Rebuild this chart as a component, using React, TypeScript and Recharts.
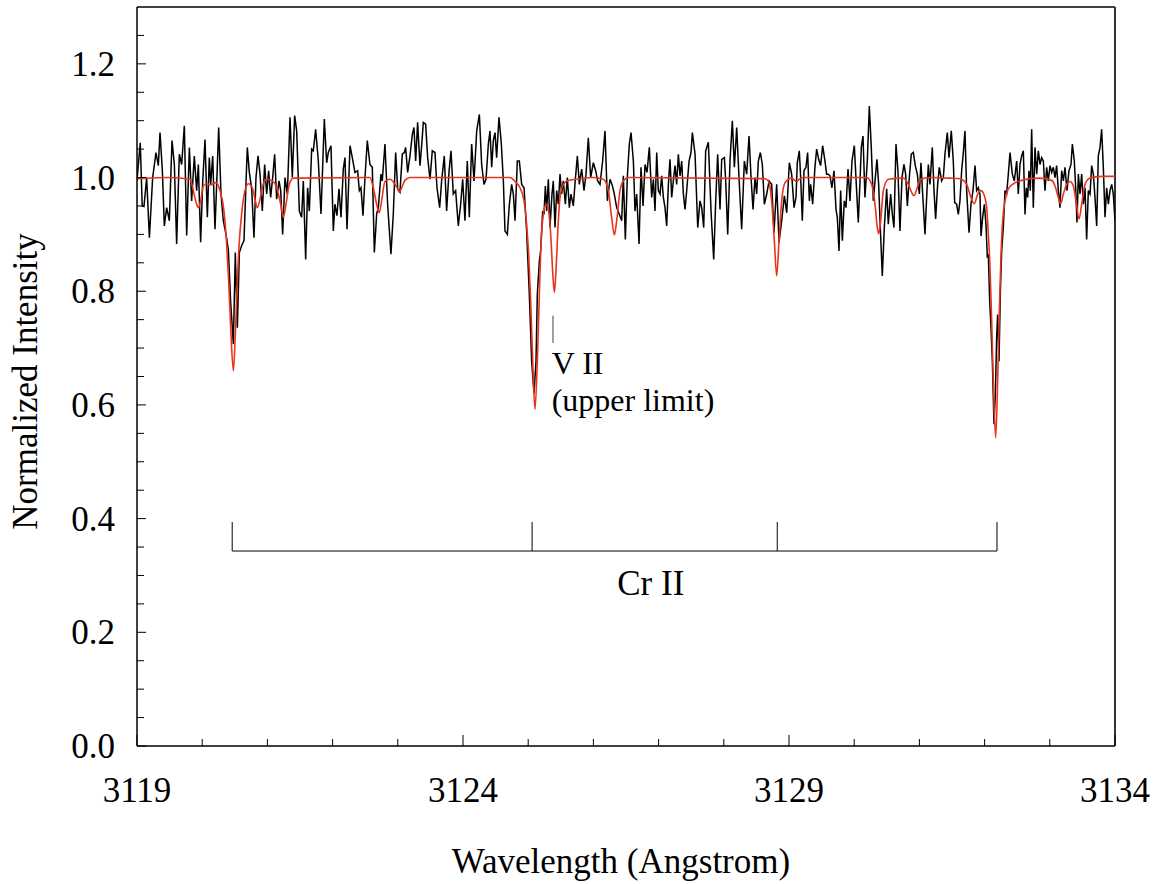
import React from 'react';
import { LineChart, Line, XAxis, YAxis, ReferenceLine, ReferenceDot } from 'recharts';

const FONT = "'Times New Roman', 'Liberation Serif', Tinos, 'DejaVu Serif', 'Noto Serif', FreeSerif, Times, serif";

const xMajorTicks = [3119, 3124, 3129, 3134];
const xMinorTicks = [3120, 3121, 3122, 3123, 3125, 3126, 3127, 3128, 3130, 3131, 3132, 3133];
const yMajorTicks = [0, 0.2, 0.4, 0.6, 0.8, 1.0, 1.2];
const yMinorTicks = [0.05, 0.1, 0.15, 0.25, 0.3, 0.35, 0.45, 0.5, 0.55, 0.65, 0.7, 0.75, 0.85, 0.9, 0.95, 1.05, 1.1, 1.15, 1.25];

// observed spectrum [wavelength, normalized intensity]
const observedSpectrum: number[][] = [
  [3119.0, 0.996], [3119.05, 1.061], [3119.08, 0.95], [3119.107, 0.949], [3119.148, 1.0], [3119.19, 0.894],
  [3119.24, 1.0], [3119.291, 1.044], [3119.327, 1.021], [3119.353, 1.079], [3119.389, 1.012], [3119.419, 0.915],
  [3119.455, 0.947], [3119.496, 0.924], [3119.537, 1.065], [3119.573, 1.023], [3119.608, 0.883], [3119.649, 1.041],
  [3119.685, 1.023], [3119.726, 1.091], [3119.762, 0.898], [3119.803, 1.053], [3119.838, 0.959], [3119.879, 1.038],
  [3119.915, 0.977], [3119.941, 1.023], [3119.976, 0.886], [3120.007, 0.991], [3120.043, 1.067], [3120.079, 0.93],
  [3120.109, 1.035], [3120.13, 0.988], [3120.161, 1.038], [3120.196, 0.909], [3120.222, 0.988], [3120.253, 1.088],
  [3120.288, 0.971], [3120.324, 0.924], [3120.365, 0.9], [3120.401, 0.873], [3120.437, 0.78], [3120.478, 0.707],
  [3120.508, 0.868], [3120.539, 0.736], [3120.57, 0.868], [3120.605, 0.88], [3120.641, 0.889], [3120.672, 0.991],
  [3120.692, 1.053], [3120.723, 1.009], [3120.759, 0.98], [3120.794, 0.894], [3120.825, 1.0], [3120.856, 1.038],
  [3120.887, 1.006], [3120.922, 0.941], [3120.958, 1.023], [3120.989, 0.971], [3121.019, 1.012], [3121.05, 0.965],
  [3121.081, 1.0], [3121.111, 1.041], [3121.142, 0.962], [3121.178, 0.994], [3121.204, 0.977], [3121.234, 0.9],
  [3121.27, 1.0], [3121.306, 0.971], [3121.347, 1.106], [3121.382, 1.0], [3121.418, 1.109], [3121.449, 1.082],
  [3121.49, 0.941], [3121.525, 0.93], [3121.551, 0.994], [3121.587, 0.856], [3121.617, 0.982], [3121.643, 0.941],
  [3121.679, 1.05], [3121.704, 1.047], [3121.74, 1.085], [3121.781, 1.029], [3121.822, 0.936], [3121.873, 1.103],
  [3121.909, 1.026], [3121.934, 1.044], [3121.975, 1.056], [3122.011, 0.906], [3122.036, 0.953], [3122.067, 0.933],
  [3122.098, 0.98], [3122.129, 0.93], [3122.164, 1.015], [3122.19, 1.035], [3122.221, 0.909], [3122.267, 1.056],
  [3122.302, 1.035], [3122.343, 1.009], [3122.384, 1.012], [3122.41, 0.977], [3122.435, 0.982], [3122.466, 0.933],
  [3122.497, 1.0], [3122.532, 1.065], [3122.573, 1.023], [3122.609, 1.018], [3122.64, 0.868], [3122.676, 0.936],
  [3122.701, 0.947], [3122.742, 1.006], [3122.762, 0.994], [3122.803, 1.059], [3122.844, 0.953], [3122.895, 0.865],
  [3122.931, 0.936], [3122.967, 1.044], [3122.998, 0.98], [3123.033, 0.974], [3123.069, 1.041], [3123.1, 1.044],
  [3123.12, 1.053], [3123.151, 1.009], [3123.187, 1.038], [3123.223, 1.076], [3123.248, 1.088], [3123.274, 1.029],
  [3123.304, 1.097], [3123.34, 1.021], [3123.366, 1.056], [3123.391, 1.097], [3123.427, 1.094], [3123.458, 1.035],
  [3123.494, 0.997], [3123.529, 1.047], [3123.57, 1.044], [3123.601, 0.982], [3123.642, 0.947], [3123.672, 0.994],
  [3123.713, 1.038], [3123.749, 0.941], [3123.785, 1.009], [3123.816, 1.047], [3123.851, 0.971], [3123.887, 0.977],
  [3123.928, 0.915], [3123.964, 0.953], [3123.995, 0.997], [3124.03, 0.924], [3124.066, 1.029], [3124.097, 0.93],
  [3124.133, 1.059], [3124.169, 0.994], [3124.21, 1.082], [3124.251, 1.111], [3124.286, 1.023], [3124.322, 0.988],
  [3124.353, 0.997], [3124.389, 1.059], [3124.414, 1.082], [3124.44, 1.018], [3124.465, 1.065], [3124.491, 1.079],
  [3124.516, 1.035], [3124.552, 1.106], [3124.588, 1.059], [3124.619, 0.994], [3124.644, 0.906], [3124.68, 0.9],
  [3124.711, 0.953], [3124.746, 0.988], [3124.772, 0.971], [3124.798, 0.924], [3124.833, 1.029], [3124.864, 1.029],
  [3124.9, 0.988], [3124.936, 0.982], [3124.976, 0.906], [3125.017, 0.795], [3125.053, 0.677], [3125.089, 0.62],
  [3125.12, 0.677], [3125.14, 0.795], [3125.171, 0.853], [3125.191, 0.871], [3125.222, 0.941], [3125.242, 0.935],
  [3125.263, 0.985], [3125.283, 0.941], [3125.309, 0.997], [3125.334, 0.912], [3125.365, 0.971], [3125.385, 0.994],
  [3125.411, 0.912], [3125.437, 0.977], [3125.462, 0.953], [3125.488, 1.006], [3125.513, 0.971], [3125.539, 0.994],
  [3125.57, 0.953], [3125.6, 1.0], [3125.631, 0.947], [3125.656, 0.971], [3125.692, 0.95], [3125.723, 0.997],
  [3125.754, 1.038], [3125.784, 0.988], [3125.82, 1.015], [3125.856, 0.977], [3125.887, 1.006], [3125.922, 1.07],
  [3125.958, 1.0], [3125.999, 1.026], [3126.035, 1.012], [3126.065, 0.994], [3126.101, 0.988], [3126.142, 1.029],
  [3126.178, 1.082], [3126.214, 0.959], [3126.255, 0.997], [3126.285, 0.988], [3126.316, 0.974], [3126.357, 0.947],
  [3126.398, 0.935], [3126.434, 0.924], [3126.459, 1.003], [3126.49, 0.891], [3126.52, 1.0], [3126.551, 1.059],
  [3126.577, 1.079], [3126.613, 1.029], [3126.638, 0.941], [3126.664, 0.971], [3126.7, 0.883], [3126.73, 1.018],
  [3126.761, 0.95], [3126.792, 1.023], [3126.822, 1.009], [3126.858, 1.053], [3126.894, 0.965], [3126.92, 0.997],
  [3126.945, 0.941], [3126.971, 1.044], [3126.996, 0.977], [3127.022, 0.971], [3127.047, 1.003], [3127.073, 0.965],
  [3127.098, 0.947], [3127.124, 0.915], [3127.15, 0.988], [3127.175, 1.032], [3127.201, 0.965], [3127.226, 0.994],
  [3127.252, 1.021], [3127.277, 0.988], [3127.303, 1.041], [3127.329, 1.003], [3127.354, 1.029], [3127.38, 0.971],
  [3127.405, 0.944], [3127.431, 0.977], [3127.467, 1.029], [3127.497, 1.044], [3127.518, 1.079], [3127.559, 1.041],
  [3127.6, 0.912], [3127.635, 0.959], [3127.661, 0.947], [3127.692, 0.912], [3127.722, 1.047], [3127.763, 1.062],
  [3127.804, 0.941], [3127.845, 0.856], [3127.876, 0.959], [3127.906, 1.041], [3127.942, 0.944], [3127.968, 1.032],
  [3128.009, 1.035], [3128.029, 0.994], [3128.06, 0.9], [3128.095, 1.029], [3128.131, 1.1], [3128.162, 1.018],
  [3128.198, 1.088], [3128.233, 1.0], [3128.274, 0.909], [3128.315, 1.029], [3128.351, 1.006], [3128.387, 1.073],
  [3128.418, 1.0], [3128.448, 0.944], [3128.479, 1.0], [3128.504, 0.971], [3128.53, 1.029], [3128.561, 1.044],
  [3128.591, 1.023], [3128.622, 0.953], [3128.658, 0.971], [3128.694, 0.994], [3128.734, 0.988], [3128.77, 0.903],
  [3128.811, 0.988], [3128.847, 0.886], [3128.888, 0.924], [3128.929, 0.968], [3128.965, 0.938], [3129.005, 1.026],
  [3129.041, 1.006], [3129.077, 0.947], [3129.107, 0.965], [3129.127, 1.026], [3129.158, 1.047], [3129.179, 1.0],
  [3129.204, 0.924], [3129.23, 1.012], [3129.26, 1.018], [3129.286, 1.044], [3129.312, 0.959], [3129.332, 0.988],
  [3129.363, 0.953], [3129.398, 1.018], [3129.424, 1.05], [3129.455, 1.032], [3129.485, 1.021], [3129.516, 1.056],
  [3129.552, 1.029], [3129.577, 1.006], [3129.603, 1.006], [3129.628, 1.003], [3129.659, 0.982], [3129.69, 1.012],
  [3129.721, 0.944], [3129.741, 0.93], [3129.767, 0.871], [3129.792, 0.977], [3129.818, 0.889], [3129.848, 0.959],
  [3129.874, 0.947], [3129.905, 1.015], [3129.935, 0.959], [3129.966, 1.029], [3130.002, 1.056], [3130.037, 0.977],
  [3130.063, 0.921], [3130.089, 0.994], [3130.109, 1.053], [3130.135, 1.073], [3130.165, 0.965], [3130.201, 1.029],
  [3130.232, 1.126], [3130.262, 1.053], [3130.293, 0.959], [3130.324, 1.0], [3130.349, 1.032], [3130.375, 0.988],
  [3130.4, 0.912], [3130.431, 0.827], [3130.462, 0.912], [3130.498, 0.98], [3130.523, 0.918], [3130.559, 0.971],
  [3130.585, 0.935], [3130.61, 0.912], [3130.641, 1.059], [3130.671, 1.012], [3130.702, 0.906], [3130.733, 1.0],
  [3130.763, 1.023], [3130.789, 1.006], [3130.815, 0.95], [3130.845, 1.0], [3130.876, 1.041], [3130.907, 1.044],
  [3130.937, 1.021], [3130.968, 1.006], [3130.999, 0.971], [3131.024, 1.026], [3131.05, 0.971], [3131.086, 0.9],
  [3131.116, 0.977], [3131.137, 1.023], [3131.162, 0.988], [3131.198, 1.053], [3131.224, 0.977], [3131.249, 0.927],
  [3131.28, 0.988], [3131.305, 1.018], [3131.341, 0.994], [3131.367, 1.0], [3131.392, 1.041], [3131.428, 1.079],
  [3131.454, 1.035], [3131.489, 1.082], [3131.52, 1.029], [3131.541, 0.956], [3131.571, 0.953], [3131.597, 0.935],
  [3131.622, 0.959], [3131.648, 1.012], [3131.674, 1.044], [3131.699, 1.082], [3131.725, 0.977], [3131.761, 0.903],
  [3131.791, 0.953], [3131.822, 0.977], [3131.853, 1.021], [3131.878, 0.977], [3131.904, 0.982], [3131.929, 0.971],
  [3131.945, 0.897], [3131.97, 0.93], [3131.996, 0.953], [3132.021, 0.918], [3132.042, 0.859], [3132.057, 0.865],
  [3132.078, 0.783], [3132.098, 0.736], [3132.119, 0.677], [3132.144, 0.566], [3132.165, 0.619], [3132.185, 0.718],
  [3132.2, 0.759], [3132.221, 0.677], [3132.241, 0.795], [3132.262, 0.871], [3132.287, 0.912], [3132.313, 0.977],
  [3132.338, 0.971], [3132.364, 1.006], [3132.39, 1.044], [3132.425, 1.006], [3132.456, 0.994], [3132.492, 1.029],
  [3132.517, 0.971], [3132.543, 1.023], [3132.568, 1.038], [3132.594, 1.047], [3132.62, 0.935], [3132.64, 0.982],
  [3132.661, 0.965], [3132.681, 1.012], [3132.701, 0.977], [3132.722, 1.085], [3132.747, 0.947], [3132.773, 1.053],
  [3132.799, 1.006], [3132.824, 1.047], [3132.85, 1.023], [3132.875, 1.035], [3132.901, 1.029], [3132.926, 0.977],
  [3132.952, 1.018], [3132.977, 0.994], [3133.003, 1.021], [3133.029, 1.009], [3133.054, 1.018], [3133.08, 1.0],
  [3133.105, 1.021], [3133.131, 0.977], [3133.156, 0.947], [3133.182, 1.012], [3133.208, 0.994], [3133.233, 1.018],
  [3133.264, 0.977], [3133.294, 1.012], [3133.325, 1.023], [3133.346, 1.059], [3133.376, 1.029], [3133.397, 0.982],
  [3133.417, 0.921], [3133.438, 1.006], [3133.463, 0.971], [3133.489, 1.006], [3133.514, 0.953], [3133.54, 0.982],
  [3133.565, 0.891], [3133.591, 0.977], [3133.617, 0.971], [3133.642, 1.021], [3133.668, 1.006], [3133.693, 0.965],
  [3133.719, 0.915], [3133.744, 1.038], [3133.77, 1.053], [3133.795, 1.085], [3133.821, 1.018], [3133.847, 0.93],
  [3133.872, 0.982], [3133.898, 0.953], [3133.923, 0.977], [3133.949, 0.988], [3133.974, 0.971], [3134.0, 0.924],
];

// synthetic model spectrum [wavelength, normalized intensity]
const modelSpectrum: number[][] = [
  [3119.0, 0.998], [3119.5, 1.0], [3119.813, 0.997], [3119.864, 0.977], [3119.915, 0.953], [3119.941, 0.947],
  [3119.976, 0.959], [3120.017, 0.985], [3120.058, 0.989], [3120.12, 0.987], [3120.212, 0.991], [3120.273, 0.977],
  [3120.334, 0.941], [3120.375, 0.883], [3120.406, 0.818], [3120.437, 0.736], [3120.478, 0.66], [3120.508, 0.724],
  [3120.539, 0.818], [3120.57, 0.889], [3120.605, 0.936], [3120.656, 0.977], [3120.708, 0.989], [3120.774, 0.98],
  [3120.815, 0.959], [3120.845, 0.947], [3120.887, 0.962], [3120.938, 0.989], [3120.989, 0.997], [3121.065, 0.995],
  [3121.142, 0.982], [3121.204, 0.953], [3121.244, 0.93], [3121.285, 0.953], [3121.336, 0.988], [3121.398, 0.999],
  [3122.573, 1.0], [3122.624, 0.982], [3122.676, 0.953], [3122.716, 0.938], [3122.752, 0.959], [3122.803, 0.993],
  [3122.88, 0.997], [3122.957, 0.988], [3122.998, 0.98], [3123.023, 0.974], [3123.059, 0.982], [3123.11, 0.995],
  [3123.187, 1.0], [3124.721, 1.0], [3124.798, 0.993], [3124.874, 0.982], [3124.936, 0.959], [3124.976, 0.918],
  [3125.007, 0.865], [3125.038, 0.783], [3125.069, 0.677], [3125.104, 0.592], [3125.14, 0.677], [3125.171, 0.795],
  [3125.196, 0.883], [3125.232, 0.935], [3125.273, 0.953], [3125.314, 0.941], [3125.345, 0.9], [3125.375, 0.836],
  [3125.401, 0.798], [3125.426, 0.836], [3125.457, 0.912], [3125.488, 0.965], [3125.539, 0.988], [3125.616, 0.995],
  [3125.743, 0.997], [3125.999, 1.0], [3126.152, 0.997], [3126.229, 0.977], [3126.28, 0.93], [3126.321, 0.899],
  [3126.357, 0.924], [3126.408, 0.977], [3126.459, 0.994], [3126.536, 1.0], [3128.632, 0.998], [3128.683, 0.994],
  [3128.734, 0.959], [3128.775, 0.889], [3128.811, 0.827], [3128.847, 0.889], [3128.888, 0.959], [3128.939, 0.991],
  [3129.041, 0.999], [3129.076, 0.996], [3129.117, 0.993], [3129.158, 0.997], [3129.219, 1.0], [3130.191, 1.0],
  [3130.268, 0.988], [3130.319, 0.953], [3130.355, 0.912], [3130.375, 0.901], [3130.406, 0.924], [3130.447, 0.977],
  [3130.523, 0.997], [3130.753, 0.999], [3130.83, 0.988], [3130.881, 0.974], [3130.917, 0.968], [3130.958, 0.979],
  [3131.019, 0.997], [3131.162, 1.0], [3131.469, 0.999], [3131.622, 0.998], [3131.648, 0.997], [3131.725, 0.988],
  [3131.791, 0.965], [3131.842, 0.954], [3131.894, 0.971], [3131.945, 0.977], [3131.996, 0.968], [3132.032, 0.947],
  [3132.057, 0.9], [3132.083, 0.842], [3132.108, 0.748], [3132.134, 0.642], [3132.17, 0.542], [3132.2, 0.642],
  [3132.226, 0.765], [3132.252, 0.865], [3132.277, 0.924], [3132.313, 0.959], [3132.364, 0.98], [3132.441, 0.989],
  [3132.568, 0.995], [3132.824, 0.999], [3133.029, 0.995], [3133.08, 0.985], [3133.131, 0.965], [3133.167, 0.954],
  [3133.208, 0.971], [3133.259, 0.988], [3133.31, 0.993], [3133.361, 0.985], [3133.402, 0.959], [3133.448, 0.927],
  [3133.489, 0.953], [3133.54, 0.988], [3133.617, 0.999], [3133.795, 1.002], [3134.0, 1.002],
];

// Cr II line markers (wavelengths) and bracket heights
const crIILines = [3120.46, 3125.06, 3128.82, 3132.19];
const crIIBracketTop = 0.394;
const crIIBracketBottom = 0.343;
const crIILabel = { wl: 3126.88, y: 0.266, text: 'Cr II' };

// V II marker and its two-line label
const vIILine = { wl: 3125.38, top: 0.757, bottom: 0.709 };
const vIILabel = { wl: 3125.36, y: 0.655, lines: ['V II', '(upper limit)'] };

const observedData = observedSpectrum.map(([wl, v]) => ({ wl, v }));
const modelData = modelSpectrum.map(([wl, v]) => ({ wl, v }));
const xTicks = [...xMajorTicks, ...xMinorTicks].sort((a, b) => a - b);
const yTicks = [...yMajorTicks, ...yMinorTicks].sort((a, b) => a - b);

const isMajor = (list: number[], v: number) => list.some((t) => Math.abs(t - v) < 1e-9);

const textStyle = { fontFamily: FONT };

const XTick = (props: any) => {
  const { x, y, payload } = props;
  const major = isMajor(xMajorTicks, payload.value);
  return (
    <g>
      <line x1={x} x2={x} y1={y} y2={y - (major ? 11 : 7)} stroke="#000" strokeWidth={1} />
      {major && (
        <text x={x} y={y + 56} textAnchor="middle" style={textStyle} fontSize={35} fill="#000">
          {payload.value}
        </text>
      )}
    </g>
  );
};

const YTick = (props: any) => {
  const { x, y, payload } = props;
  const major = isMajor(yMajorTicks, payload.value);
  return (
    <g>
      <line x1={x} x2={x + (major ? 9 : 7)} y1={y} y2={y} stroke="#000" strokeWidth={1} />
      {major && (
        <text x={x - 22} y={y + 12} textAnchor="end" style={textStyle} fontSize={35} fill="#000">
          {Number(payload.value).toFixed(1)}
        </text>
      )}
    </g>
  );
};

const makeText = (lines: string[], anchor: 'start' | 'middle', size: number, lineGap: number) => (props: any) => {
  const vb = props.viewBox || {};
  const cx = (vb.x ?? 0) + (vb.width ?? 0) / 2;
  const cy = (vb.y ?? 0) + (vb.height ?? 0) / 2;
  return (
    <g>
      {lines.map((ln, i) => (
        <text key={ln} x={cx} y={cy + i * lineGap} textAnchor={anchor} style={textStyle} fontSize={size} fill="#000">
          {ln}
        </text>
      ))}
    </g>
  );
};

const XTitle = (props: any) => {
  const vb = props.viewBox || {};
  return (
    <text x={vb.x + vb.width / 2 - 5} y={vb.y + 127} textAnchor="middle" style={textStyle} fontSize={35} fill="#000">
      Wavelength (Angstrom)
    </text>
  );
};

const YTitle = (props: any) => {
  const vb = props.viewBox || {};
  const x = vb.x - 40;
  const y = vb.y + vb.height / 2 + 5;
  return (
    <text x={x} y={y} transform={`rotate(-90 ${x} ${y})`} textAnchor="middle" style={textStyle} fontSize={35} fill="#000">
      Normalized Intensity
    </text>
  );
};

export default function App() {
  return (
    <div style={{ position: 'absolute', left: 0, top: 0, background: '#fff' }}>
      <LineChart width={1159} height={884} margin={{ top: 7, right: 44, bottom: 78, left: 77 }}>
        <XAxis
          type="number"
          dataKey="wl"
          domain={[3119, 3134]}
          allowDataOverflow
          ticks={xTicks}
          interval={0}
          tickSize={0}
          tickMargin={0}
          tickLine={false}
          tick={<XTick />}
          height={60}
          axisLine={{ stroke: '#000', strokeWidth: 1.5 }}
          label={{ content: <XTitle /> } as any}
        />
        <YAxis
          type="number"
          domain={[0, 1.3]}
          allowDataOverflow
          ticks={yTicks}
          interval={0}
          tickSize={0}
          tickMargin={0}
          tickLine={false}
          tick={<YTick />}
          width={60}
          axisLine={{ stroke: '#000', strokeWidth: 1.5 }}
          label={{ content: <YTitle /> } as any}
        />
        <ReferenceLine y={1.3} stroke="#000" strokeWidth={1.5} />
        <ReferenceLine x={3134} stroke="#333" strokeWidth={2} />
        <Line
          data={observedData}
          dataKey="v"
          type="linear"
          stroke="#000"
          strokeWidth={1.5}
          dot={false}
          activeDot={false}
          isAnimationActive={false}
        />
        <Line
          data={modelData}
          dataKey="v"
          type="monotone"
          stroke="#e8341c"
          strokeWidth={1.6}
          dot={false}
          activeDot={false}
          isAnimationActive={false}
        />
        {crIILines.map((wl) => (
          <ReferenceLine
            key={`cr-${wl}`}
            segment={[{ x: wl, y: crIIBracketTop }, { x: wl, y: crIIBracketBottom }]}
            stroke="#000"
            strokeWidth={1}
          />
        ))}
        <ReferenceLine
          segment={[
            { x: crIILines[0], y: crIIBracketBottom },
            { x: crIILines[crIILines.length - 1], y: crIIBracketBottom },
          ]}
          stroke="#000"
          strokeWidth={1}
        />
        <ReferenceLine
          segment={[{ x: vIILine.wl, y: vIILine.top }, { x: vIILine.wl, y: vIILine.bottom }]}
          stroke="#444"
          strokeWidth={1}
        />
        <ReferenceDot
          x={crIILabel.wl}
          y={crIILabel.y}
          r={0}
          fill="none"
          stroke="none"
          label={{ content: makeText([crIILabel.text], 'middle', 35, 0) } as any}
        />
        <ReferenceDot
          x={vIILabel.wl}
          y={vIILabel.y}
          r={0}
          fill="none"
          stroke="none"
          label={{ content: makeText(vIILabel.lines, 'start', 32, 37) } as any}
        />
      </LineChart>
    </div>
  );
}
